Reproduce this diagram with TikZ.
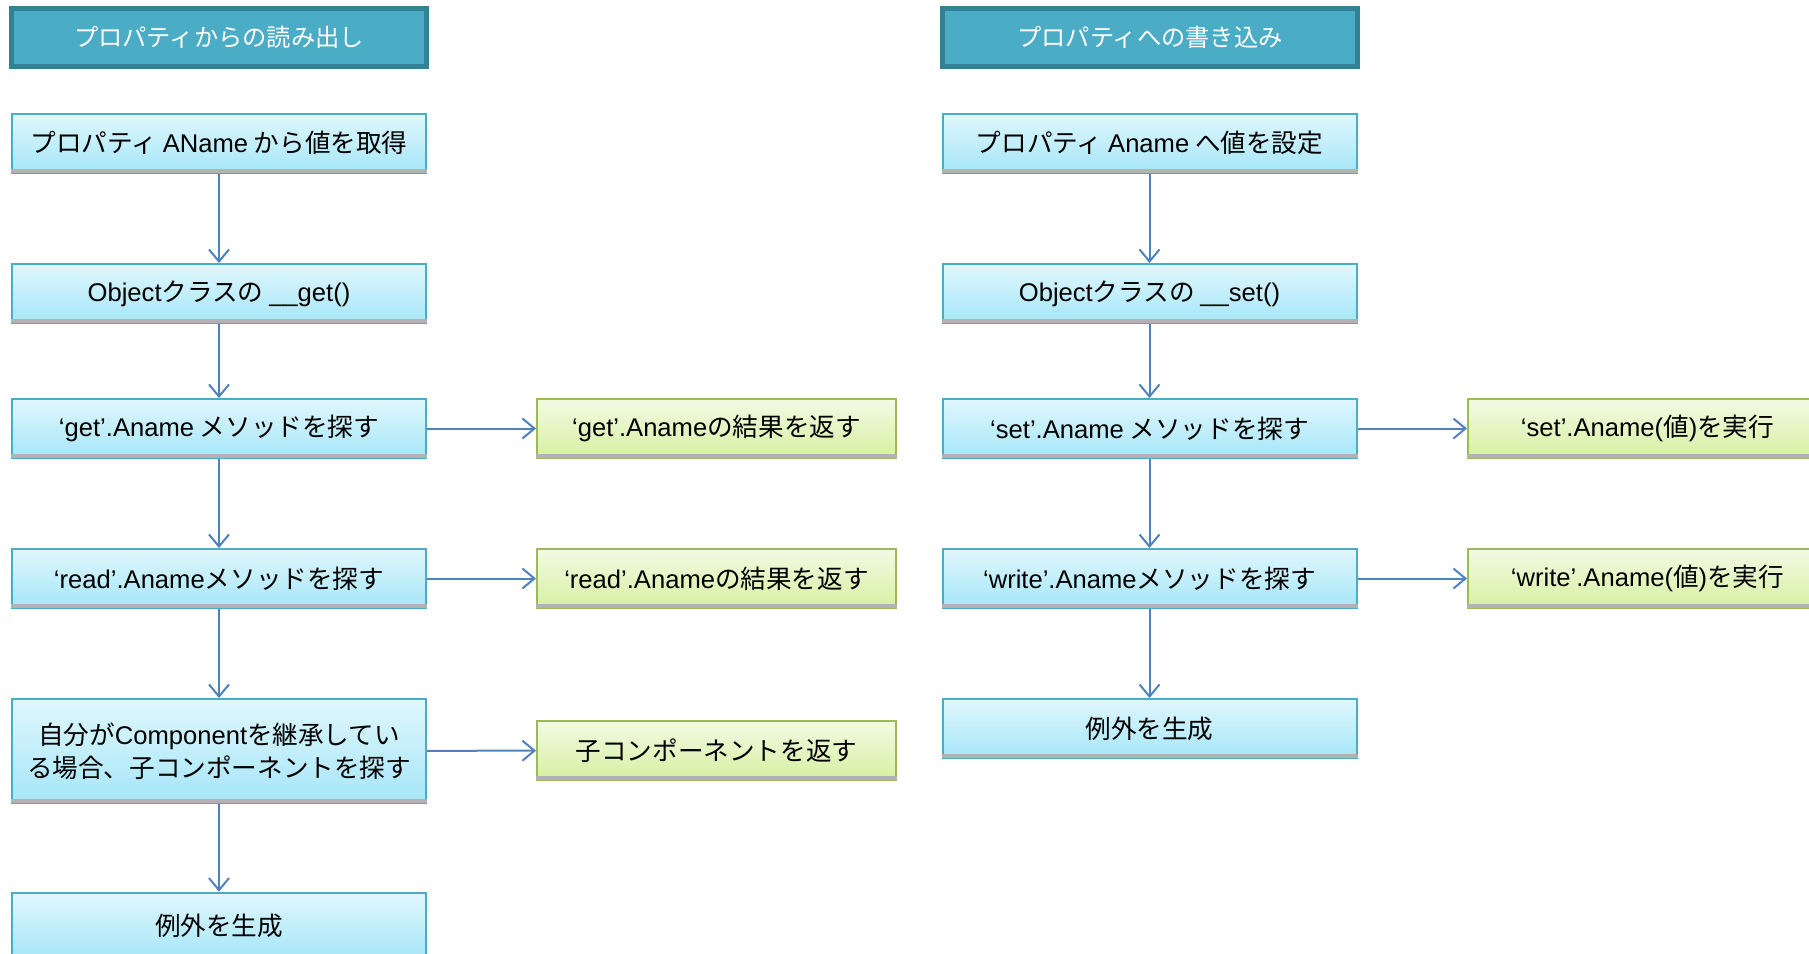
\documentclass[tikz,border=0pt]{standalone}
\usepackage{fontspec}
\setmainfont{Noto Sans CJK JP}
\newfontfamily\lat{Liberation Sans}
\usetikzlibrary{arrows.meta}
\tikzset{every picture/.style={line width=0.75pt}}
\definecolor{hdfill}{RGB}{75,172,198}
\definecolor{hdline}{RGB}{52,128,148}
\definecolor{bltop}{RGB}{224,247,252}
\definecolor{blbot}{RGB}{165,230,248}
\definecolor{blline}{RGB}{75,172,198}
\definecolor{grtop}{RGB}{243,250,228}
\definecolor{grbot}{RGB}{214,240,160}
\definecolor{grline}{RGB}{155,187,89}
\definecolor{arrline}{RGB}{79,129,189}
\tikzset{
  txt/.style={inner sep=0pt, align=center, font=\fontsize{19.2}{24.75}\selectfont},
  headbox/.style={txt, font=\fontsize{18.2}{24.75}\selectfont, draw=hdline, line width=3.75pt, fill=hdfill, text=white, minimum width=311.25pt, minimum height=43.5pt},
  bluebox/.style={txt, draw=blline, line width=1.5pt, top color=bltop, bottom color=blbot, minimum width=310.5pt, minimum height=44.25pt},
  greenbox/.style={txt, draw=grline, line width=1.5pt, top color=grtop, bottom color=grbot, minimum width=269.25pt, minimum height=44.25pt},
  link/.style={draw=arrline, line width=1.5pt, -{Straight Barb[length=9pt,width=15pt,line width=1.5pt]}}
}

\begin{document}
\begin{tikzpicture}[x=0.75pt,y=0.75pt,yscale=-1,xscale=1]
\useasboundingbox (0,0) rectangle (1809,953);

% Read column
\node[headbox] (rhead) at (219,37.5) {プロパティからの読み出し};
\node[bluebox] (r1) at (219,143) {プロパティ {\lat AName} から値を取得};
\node[bluebox] (r2) at (219,293.5) {{\lat Object}クラスの {\lat \_\_get()}};
\node[bluebox] (r3) at (219,428.5) {{\lat ‘get’.Aname} メソッドを探す};
\node[bluebox] (r4) at (219,578.5) {{\lat ‘read’.Aname}メソッドを探す};
\node[bluebox, minimum height=78pt] (r5) at (219,751) {自分が{\lat Component}を継承してい\\る場合、子コンポーネントを探す};
\node[bluebox, minimum height=50pt] (r6) at (219,926) {例外を生成};
\node[greenbox] (rg3) at (716.5,428.5) {{\lat ‘get’.Aname}の結果を返す};
\node[greenbox] (rg4) at (716.5,578.5) {{\lat ‘read’.Aname}の結果を返す};
\node[greenbox] (rg5) at (716.5,750.5) {子コンポーネントを返す};

% Write column
\node[headbox] (whead) at (1150,37.5) {プロパティへの書き込み};
\node[bluebox] (w1) at (1149.5,143) {プロパティ {\lat Aname} へ値を設定};
\node[bluebox] (w2) at (1149.5,293.5) {{\lat Object}クラスの {\lat \_\_set()}};
\node[bluebox] (w3) at (1149.5,428.5) {{\lat ‘set’.Aname} メソッドを探す};
\node[bluebox] (w4) at (1149.5,578.5) {{\lat ‘write’.Aname}メソッドを探す};
\node[bluebox] (w5) at (1149.5,728.5) {例外を生成};
\node[greenbox] (wg3) at (1647.5,428.5) {{\lat ‘set’.Aname(}値{\lat )}を実行};
\node[greenbox] (wg4) at (1647.5,578.5) {{\lat ‘write’.Aname(}値{\lat )}を実行};

% shadows under the boxes
\foreach \n in {r1,r2,r3,r4,r5,r6,rg3,rg4,rg5,w1,w2,w3,w4,w5,wg3,wg4}
  \fill[gray!60] ([yshift=-0.75pt]\n.south west) rectangle ([yshift=-3.5pt]\n.south east);

% connectors
\draw[link] (r1) -- (r2);
\draw[link] (r2) -- (r3);
\draw[link] (r3) -- (r4);
\draw[link] (r4) -- (r5);
\draw[link] (r5) -- (r6);
\draw[link] (r3) -- (rg3);
\draw[link] (r4) -- (rg4);
\draw[link] (r5) -- (rg5);
\draw[link] (w1) -- (w2);
\draw[link] (w2) -- (w3);
\draw[link] (w3) -- (w4);
\draw[link] (w4) -- (w5);
\draw[link] (w3) -- (wg3);
\draw[link] (w4) -- (wg4);

\end{tikzpicture}
\end{document}
